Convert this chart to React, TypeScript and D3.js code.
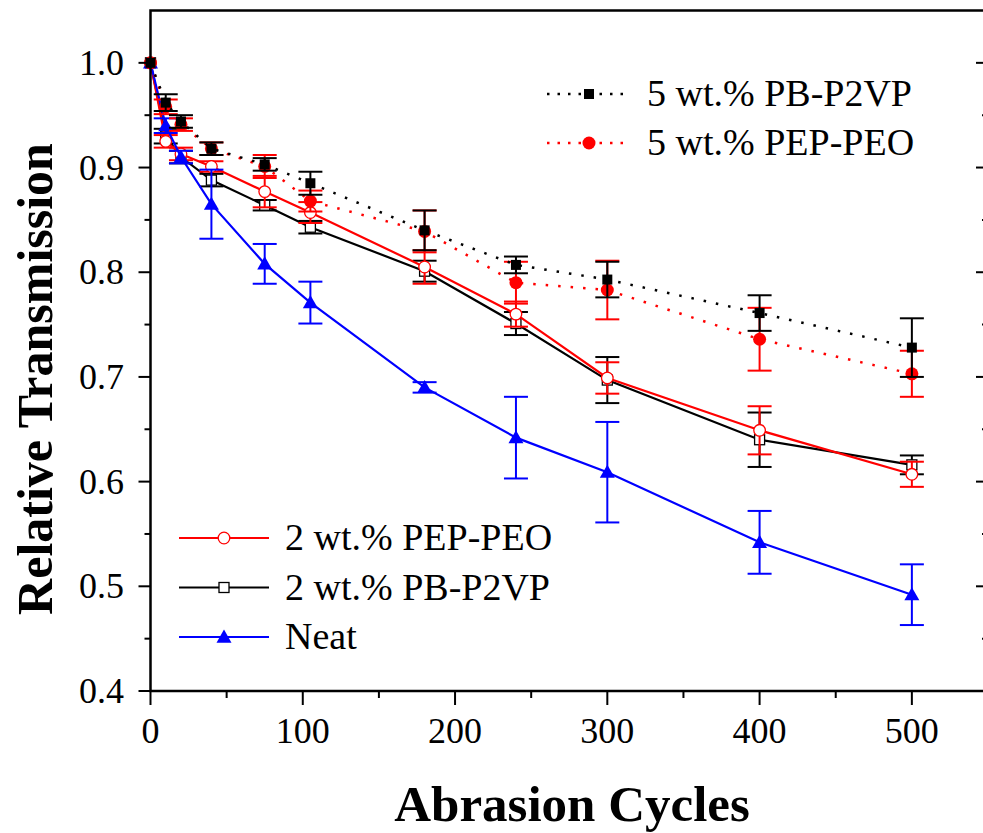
import React from "react";
import * as d3 from "d3";

const cycles = [0, 10, 20, 40, 75, 105, 180, 240, 300, 400, 500];

const neatY = [1.0, 0.94, 0.91, 0.865, 0.808, 0.771, 0.69, 0.642, 0.609, 0.542, 0.492];
const neatErr = [0, 0.007, 0.006, 0.033, 0.019, 0.02, 0.005, 0.039, 0.048, 0.03, 0.029];

const pep2Y = [1.0, 0.925, 0.913, 0.901, 0.877, 0.857, 0.805, 0.76, 0.699, 0.649, 0.607];
const pep2Err = [0, 0.006, 0.006, 0.005, 0.015, 0.01, 0.016, 0.012, 0.015, 0.023, 0.012];

const pb2Y = [1.0, 0.93, 0.91, 0.888, 0.864, 0.843, 0.801, 0.751, 0.697, 0.64, 0.616];
const pb2Err = [0, 0.007, 0.006, 0.006, 0.005, 0.006, 0.01, 0.011, 0.022, 0.026, 0.009];

const pb5Y = [1.0, 0.962, 0.944, 0.918, 0.903, 0.885, 0.84, 0.807, 0.793, 0.761, 0.728];
const pb5Err = [0, 0.008, 0.006, 0.006, 0.006, 0.011, 0.019, 0.008, 0.017, 0.017, 0.028];

const pep5Y = [1.0, 0.958, 0.941, 0.918, 0.901, 0.868, 0.839, 0.79, 0.783, 0.736, 0.703];
const pep5Err = [0, 0.007, 0.006, 0.006, 0.011, 0.01, 0.02, 0.02, 0.028, 0.03, 0.022];

const xMajorTicks = [0, 100, 200, 300, 400, 500];
const xMinorTicks = [50, 150, 250, 350, 450];
const yMajorTicks = [0.4, 0.5, 0.6, 0.7, 0.8, 0.9, 1.0];
const yMinorTicks = [0.45, 0.55, 0.65, 0.75, 0.85, 0.95];

const xLabel = "Abrasion Cycles";
const yLabel = "Relative Transmission";

type Series = {
  name: string;
  ys: number[];
  errs: number[];
  color: string;
  dotted: boolean;
  marker: "openCircle" | "openSquare" | "triangle" | "square" | "circle";
};

const series: Series[] = [
  { name: "2 wt.% PB-P2VP", ys: pb2Y, errs: pb2Err, color: "#000000", dotted: false, marker: "openSquare" },
  { name: "2 wt.% PEP-PEO", ys: pep2Y, errs: pep2Err, color: "#ff0000", dotted: false, marker: "openCircle" },
  { name: "Neat", ys: neatY, errs: neatErr, color: "#0000ff", dotted: false, marker: "triangle" },
  { name: "5 wt.% PEP-PEO", ys: pep5Y, errs: pep5Err, color: "#ff0000", dotted: true, marker: "circle" },
  { name: "5 wt.% PB-P2VP", ys: pb5Y, errs: pb5Err, color: "#000000", dotted: true, marker: "square" },
];

const legendTop = ["5 wt.% PB-P2VP", "5 wt.% PEP-PEO"];
const legendBottom = ["2 wt.% PEP-PEO", "2 wt.% PB-P2VP", "Neat"];

const W = 983;
const H = 833;
const FONT = "'Liberation Serif', 'Times New Roman', serif";

const x = d3.scaleLinear().domain([0, 550]).range([150.5, 988]);
const y = d3.scaleLinear().domain([0.4, 1.05]).range([691, 10.5]);

function Marker({ kind, cx, cy, color }: { kind: Series["marker"]; cx: number; cy: number; color: string }) {
  switch (kind) {
    case "openCircle":
      return <circle cx={cx} cy={cy} r={5.8} fill="#fff" stroke={color} strokeWidth={1.3} />;
    case "circle":
      return <circle cx={cx} cy={cy} r={6.5} fill={color} />;
    case "openSquare":
      return <rect x={cx - 5} y={cy - 5} width={10} height={10} fill="#fff" stroke={color} strokeWidth={1.3} />;
    case "square":
      return <rect x={cx - 5} y={cy - 5} width={10} height={10} fill={color} />;
    case "triangle": {
      const s = 7.5;
      return (
        <path
          d={`M${cx},${cy - s} L${cx + s},${cy + s * 0.75} L${cx - s},${cy + s * 0.75} Z`}
          fill={color}
        />
      );
    }
  }
  return null;
}

export default function App() {
  const line = d3
    .line<[number, number]>()
    .x((d) => x(d[0]))
    .y((d) => y(d[1]));

  const byName = (n: string) => series.find((s) => s.name === n)!;

  const legendEntry = (s: Series, x0: number, x1: number, yy: number, key: string) => (
    <g key={key}>
      <line
        x1={x0}
        x2={x1}
        y1={yy}
        y2={yy}
        stroke={s.color}
        strokeWidth={s.dotted ? 2.5 : 2}
        strokeDasharray={s.dotted ? "2.5,8" : undefined}
      />
      <Marker kind={s.marker} cx={(x0 + x1) / 2} cy={yy} color={s.color} />
      <text x={x1 + 16} y={yy + 12} fontFamily={FONT} fontSize={38} fill="#000">
        {s.name}
      </text>
    </g>
  );

  return (
    <svg
      width={W}
      height={H}
      viewBox={`0 0 ${W} ${H}`}
      style={{ position: "absolute", left: 0, top: 0, background: "#fff" }}
    >
      <rect x={0} y={0} width={W} height={H} fill="#fff" />

      {series.map((s, si) => {
        const pts: [number, number][] = cycles.map((c, i) => [c, s.ys[i]]);
        return (
          <g key={si}>
            <path
              d={line(pts) || ""}
              fill="none"
              stroke={s.color}
              strokeWidth={s.dotted ? 2.5 : 2.2}
              strokeDasharray={s.dotted ? "2.5,10" : undefined}
            />
            {cycles.map((c, i) => {
              const e = s.errs[i];
              if (!e) return null;
              const cx = x(c);
              const yt = y(s.ys[i] + e);
              const yb = y(s.ys[i] - e);
              return (
                <g key={i} stroke={s.color} strokeWidth={2}>
                  <line x1={cx} x2={cx} y1={yt} y2={yb} />
                  <line x1={cx - 12} x2={cx + 12} y1={yt} y2={yt} />
                  <line x1={cx - 12} x2={cx + 12} y1={yb} y2={yb} />
                </g>
              );
            })}
            {cycles.map((c, i) => (
              <Marker key={"m" + i} kind={s.marker} cx={x(c)} cy={y(s.ys[i])} color={s.color} />
            ))}
          </g>
        );
      })}

      <rect
        x={x(0)}
        y={y(1.05)}
        width={x(550) - x(0)}
        height={y(0.4) - y(1.05)}
        fill="none"
        stroke="#000"
        strokeWidth={2.5}
      />

      {xMajorTicks.map((t) => (
        <g key={"xt" + t}>
          <line x1={x(t)} x2={x(t)} y1={y(0.4)} y2={y(0.4) + 14} stroke="#000" strokeWidth={2} />
          <text x={x(t)} y={743} textAnchor="middle" fontFamily={FONT} fontSize={36} fill="#000">
            {t}
          </text>
        </g>
      ))}
      {xMinorTicks.map((t) => (
        <line key={"xm" + t} x1={x(t)} x2={x(t)} y1={y(0.4)} y2={y(0.4) + 7} stroke="#000" strokeWidth={2} />
      ))}

      {yMajorTicks.map((t) => (
        <g key={"yt" + t}>
          <line x1={x(0) - 12} x2={x(0)} y1={y(t)} y2={y(t)} stroke="#000" strokeWidth={2} />
          <line x1={x(550) - 12} x2={x(550)} y1={y(t)} y2={y(t)} stroke="#000" strokeWidth={2} />
          <text x={124} y={y(t) + 12} textAnchor="end" fontFamily={FONT} fontSize={36} fill="#000">
            {t.toFixed(1)}
          </text>
        </g>
      ))}
      {yMinorTicks.map((t) => (
        <g key={"ym" + t}>
          <line x1={x(0) - 6} x2={x(0)} y1={y(t)} y2={y(t)} stroke="#000" strokeWidth={2} />
          <line x1={x(550) - 6} x2={x(550)} y1={y(t)} y2={y(t)} stroke="#000" strokeWidth={2} />
        </g>
      ))}

      <text
        x={572}
        y={821}
        textAnchor="middle"
        fontFamily={FONT}
        fontWeight="bold"
        fontSize={51}
        fill="#000"
      >
        {xLabel}
      </text>
      <text
        transform={`translate(52,379) rotate(-90)`}
        textAnchor="middle"
        fontFamily={FONT}
        fontWeight="bold"
        fontSize={50}
        fill="#000"
      >
        {yLabel}
      </text>

      {legendTop.map((n, i) => legendEntry(byName(n), 547, 631, 94 + i * 49, "lt" + i))}
      {legendBottom.map((n, i) => legendEntry(byName(n), 179, 269, 538 + i * 49.5, "lb" + i))}
    </svg>
  );
}
